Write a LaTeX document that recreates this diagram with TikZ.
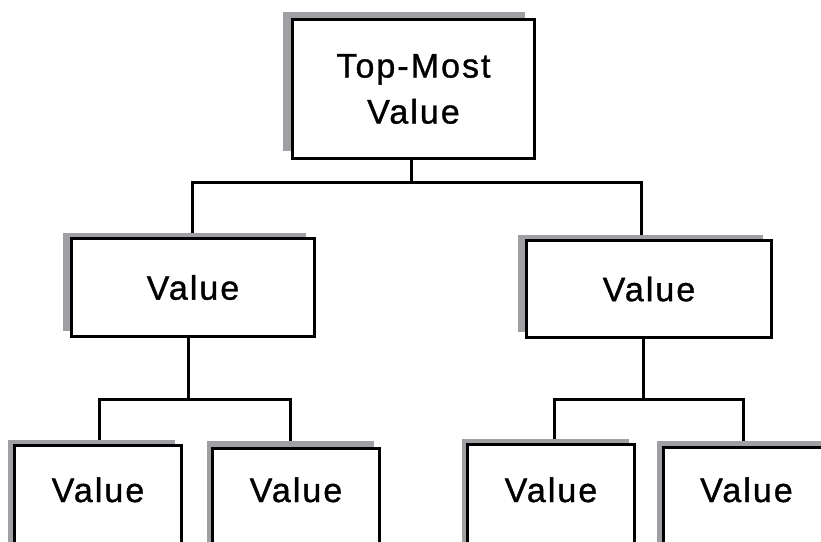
\documentclass[tikz,border=0pt]{standalone}
\usepackage{fontspec}
\setmainfont{Liberation Sans}
\newfontfamily\vfont[LetterSpace=6,FakeBold=1]{Liberation Sans}
\usetikzlibrary{shadows,calc}
\definecolor{shadowgray}{RGB}{160,160,164}
\pgfdeclarelayer{background}
\pgfsetlayers{background,main}
\begin{document}
\begin{tikzpicture}[x=1pt,y=-1pt,
  box/.style={draw=black, line width=3pt, fill=white, inner sep=0pt,
    font=\vfont\fontsize{34}{46}\selectfont, align=center},
  shad/.style 2 args={drop shadow={shadow xshift=#1pt, shadow yshift=#2pt,
    fill=shadowgray, opacity=1, draw=none}},
  leaf/.style={box, anchor=north, minimum width=167pt, text height=#1pt, text depth=150pt},
  conn/.style={draw=black, line width=3pt}]
\useasboundingbox (0,0) rectangle (821,541);
\clip (0,0) rectangle (821,541);
% boxes
\node[box, shad={-9.5}{7.5}, minimum width=242pt, minimum height=139pt] (top) at (413.5,89) {Top-Most\\Value};
\node[box, shad={-8.5}{6}, minimum width=243pt, minimum height=98pt] (lm) at (193,287.5) {Value};
\node[box, shad={-8.5}{5.5}, minimum width=245pt, minimum height=97pt] (rm) at (649,289) {Value};
\node[leaf=56.5, shad={-6.5}{5.5}] (b1) at (98,444) {Value};
\node[leaf=53.5, shad={-5.5}{7.5}] (b2) at (296,447) {Value};
\node[leaf=57.5, shad={-5.5}{5.5}] (b3) at (551,443) {Value};
\node[leaf=54.5, shad={-6.5}{6.5}] (b4) at (746.5,446) {Value};
% connectors
\begin{pgfonlayer}{background}
\draw[conn] ([xshift=-2.5pt]top.south) -- ++(0,22) -| ([xshift=-1pt]lm.north);
\draw[conn] ([xshift=-2.5pt]top.south) -- ++(0,22) -| ([xshift=-8pt]rm.north);
\draw[conn] ([xshift=-5pt]lm.south) -- ++(0,61) -| ([xshift=1pt]b1.north);
\draw[conn] ([xshift=-5pt]lm.south) -- ++(0,61) -| ([xshift=-6pt]b2.north);
\draw[conn] ([xshift=-6pt]rm.south) -- ++(0,60) -| ([xshift=3pt]b3.north);
\draw[conn] ([xshift=-6pt]rm.south) -- ++(0,60) -| ([xshift=-3.5pt]b4.north);
\end{pgfonlayer}
\end{tikzpicture}
\end{document}
